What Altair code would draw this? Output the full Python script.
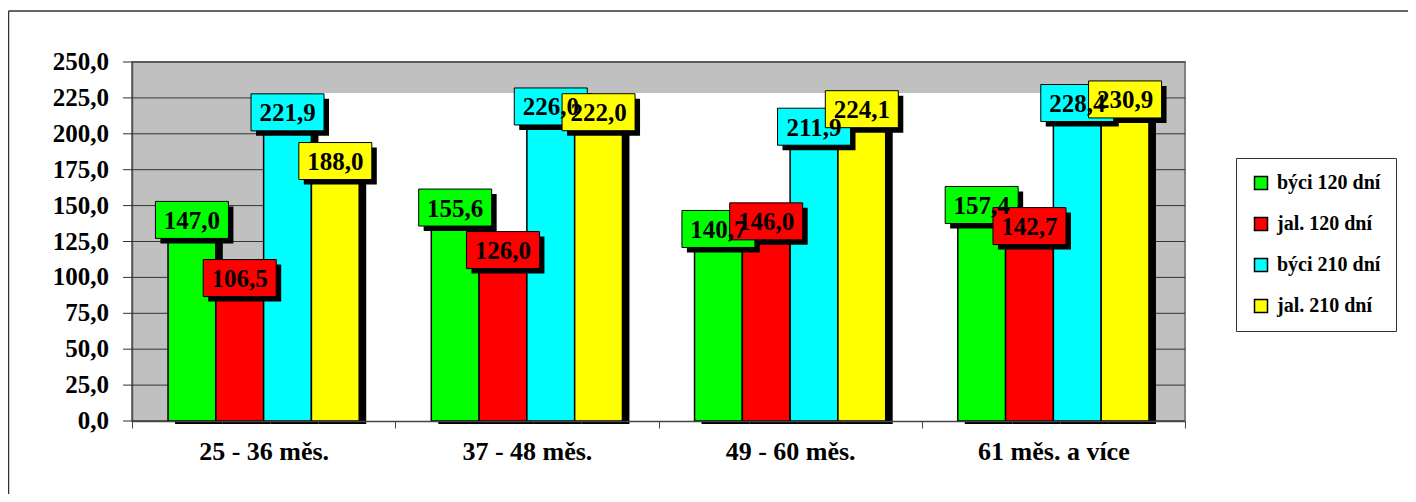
import altair as alt
import pandas as pd

categories = ["25 - 36 měs.", "37 - 48 měs.", "49 - 60 měs.", "61 měs. a více"]
series = ["býci 120 dní", "jal. 120 dní", "býci 210 dní", "jal. 210 dní"]
colors = ["#00FF00", "#FF0000", "#00FFFF", "#FFFF00"]
byci_120 = [147.0, 155.6, 140.7, 157.4]
jal_120 = [106.5, 126.0, 146.0, 142.7]
byci_210 = [221.9, 226.0, 211.9, 228.4]
jal_210 = [188.0, 222.0, 224.1, 230.9]
y_ticks = [0, 25, 50, 75, 100, 125, 150, 175, 200, 225, 250]
white_top = 228.4

rows = []
for s, vals in zip(series, [byci_120, jal_120, byci_210, jal_210]):
    for c, v in zip(categories, vals):
        rows.append({"kategorie": c, "skupina": s, "hodnota": v})
df = pd.DataFrame(rows)

ticks_df = pd.DataFrame({"hodnota": [float(t) for t in y_ticks]})
white_df = pd.DataFrame({"kategorie": [categories[0]], "kategorie2": [categories[-1]],
                         "hodnota": [0.0], "hodnota2": [white_top]})

FONT = "Liberation Serif"
LABEL_DY = 10
FMT = "replace(format(datum.hodnota, '.1f'), '.', ',')"

x_scale = alt.Scale(domain=categories, paddingInner=0, paddingOuter=0)
y_scale = alt.Scale(domain=[0, 250], nice=False, zero=True)

x_axis = alt.Axis(title=None, labelAngle=0, labelFont=FONT, labelFontSize=26,
                  labelFontWeight="bold", labelColor="black", labelPadding=10,
                  tickSize=7, tickBand="extent", tickColor="#444",
                  domainColor="#444", domainWidth=1.5, grid=False)
y_axis = alt.Axis(title=None, labels=False, ticks=False, grid=False,
                  domainColor="#555", domainWidth=1.5)


def X(**kw):
    return alt.X("kategorie:N", sort=categories, scale=x_scale, axis=x_axis, **kw)


def Y():
    return alt.Y("hodnota:Q", scale=y_scale, axis=y_axis)


def off(align):
    return alt.XOffset("skupina:N", sort=series,
                       scale=alt.Scale(type="band", paddingInner=0, paddingOuter=0.754,
                                       align=align))


color_enc = alt.Color(
    "skupina:N", sort=series, scale=alt.Scale(domain=series, range=colors),
    legend=alt.Legend(title=None, orient="none", legendX=1104, legendY=96,
                      symbolType="square", symbolSize=169, symbolStrokeColor="black",
                      symbolStrokeWidth=1.5, labelFont=FONT, labelFontSize=20,
                      labelFontWeight="bold", labelColor="black", rowPadding=21,
                      padding=15, strokeColor="#333", fillColor="white", labelOffset=6),
)

base = alt.Chart(df).transform_calculate(popis=FMT)
tick_base = alt.Chart(ticks_df).transform_calculate(popis=FMT)

grid = tick_base.mark_rule(color="#333", strokeWidth=1).encode(y=Y())

white = alt.Chart(white_df).mark_rect(color="white").encode(
    x=X(bandPosition=0.69),
    x2=alt.X2("kategorie2", bandPosition=0.69),
    y=Y(),
    y2=alt.Y2("hodnota2"),
)

bar_shadow = base.mark_bar(color="black", yOffset=3).encode(
    x=X(), xOffset=off(0.597), y=Y()
)
bars = base.mark_bar(stroke="black", strokeWidth=1.5).encode(
    x=X(), xOffset=off(0.5), y=Y(), color=color_enc
)
lab_shadow = base.mark_rect(color="black", width=73, height=37, yOffset=LABEL_DY + 5).encode(
    x=X(), xOffset=off(0.569), y=Y()
)
lab_box = base.mark_rect(width=73, height=37, stroke="black", strokeWidth=1, yOffset=LABEL_DY).encode(
    x=X(), xOffset=off(0.5), y=Y(), color=alt.Color("skupina:N", sort=series, legend=None)
)
lab_text = base.mark_text(font=FONT, fontSize=25, fontWeight="bold", color="black",
                          baseline="middle", yOffset=LABEL_DY + 1).encode(
    x=X(), xOffset=off(0.5), y=Y(), text="popis:N"
)

y_tickmarks = tick_base.mark_rule(color="#333", strokeWidth=1).encode(
    x=alt.value(-9), x2=alt.value(0), y=Y()
)
y_labels = tick_base.mark_text(font=FONT, fontSize=25, fontWeight="bold", color="black",
                               align="right", baseline="middle").encode(
    x=alt.value(-23), y=Y(), text="popis:N"
)

one = pd.DataFrame({"a": [0]})
frame_left = alt.Chart(one).mark_rule(color="#333", strokeWidth=1.5).encode(
    x=alt.value(-123.5), y=alt.value(-51), y2=alt.value(460)
)
frame_top = alt.Chart(one).mark_rule(color="#333", strokeWidth=1.5).encode(
    x=alt.value(-123.5), x2=alt.value(1400), y=alt.value(-51)
)

chart = alt.layer(grid, white, bar_shadow, bars, lab_shadow, lab_box, lab_text,
                  y_tickmarks, y_labels, frame_left, frame_top).resolve_scale(
    xOffset="independent"
).properties(
    width=1053, height=359,
    padding={"left": 124, "top": 54, "right": 223, "bottom": 73},
    autosize=alt.AutoSizeParams(type="none"),
    background="white",
).configure_view(
    fill="#C0C0C0", stroke="#808080", strokeWidth=2
)

chart.save("out.html", embed_options={"renderer": "svg", "actions": False})
